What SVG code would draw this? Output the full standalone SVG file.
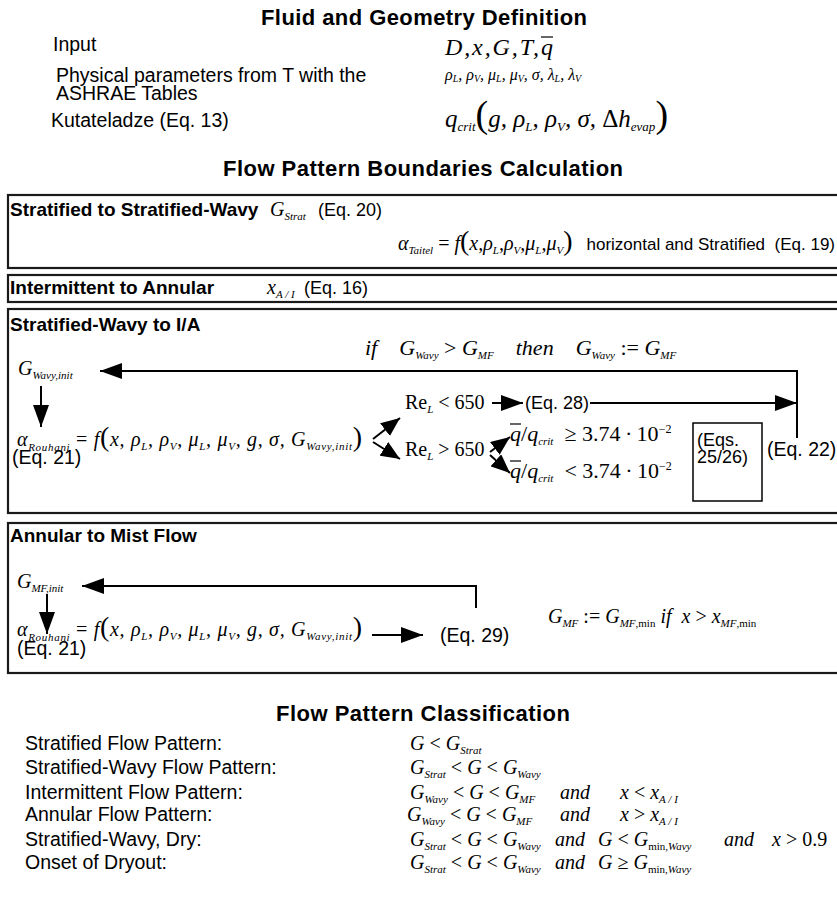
<svg xmlns="http://www.w3.org/2000/svg" width="837" height="903" viewBox="0 0 837 903">
<style>
text{fill:#000}
.h{font-family:"Liberation Sans",Arial,sans-serif;font-weight:bold;font-size:19px}
.ht{font-family:"Liberation Sans",Arial,sans-serif;font-weight:bold;font-size:22px}
.t{font-family:"Liberation Sans",Arial,sans-serif;font-size:19.5px}
.t2{font-family:"Liberation Sans",Arial,sans-serif;font-size:18px}
.m{font-family:"Liberation Serif","Times New Roman",serif;font-style:italic;font-size:20px}
.u{font-style:normal}
.s{font-size:11px}
.p{font-size:28px;font-style:normal}
.box{fill:none;stroke:#1a1a1a;stroke-width:2.2}
.ln{fill:none;stroke:#000;stroke-width:2}
.ol{stroke:#000;stroke-width:1.2}
</style>
<defs>
<marker id="ah" markerUnits="userSpaceOnUse" markerWidth="24" markerHeight="16" refX="22" refY="8" orient="auto"><path d="M0,0L22,8L0,16z"/></marker>
<marker id="as" markerUnits="userSpaceOnUse" markerWidth="20" markerHeight="16" refX="19" refY="8" orient="auto"><path d="M0,0L19,8L0,16z"/></marker>
</defs>
<rect width="837" height="903" fill="#fff"/>

<g id="titles">
<text class="ht" x="261" y="25" textLength="326">Fluid and Geometry Definition</text>
<text class="ht" x="223" y="176" textLength="400">Flow Pattern Boundaries Calculation</text>
<text class="ht" x="276" y="721" textLength="294">Flow Pattern Classification</text>
</g>

<g id="n-input">
<text class="t" x="53" y="51">Input</text>
<text class="m" x="445" y="55" style="font-size:24px" textLength="108">D,x,G,T,q</text>
<line class="ol" x1="541" y1="37" x2="553" y2="37"/>
</g>

<g id="n-phys">
<text class="t" x="56" y="82">Physical parameters from T with the</text>
<text class="t" x="56" y="100">ASHRAE Tables</text>
<text class="m" x="445" y="80" style="font-size:16px">ρ<tspan style="font-size:10px" dy="2">L</tspan><tspan dy="-2">, ρ</tspan><tspan style="font-size:10px" dy="2">V</tspan><tspan dy="-2">, μ</tspan><tspan style="font-size:10px" dy="2">L</tspan><tspan dy="-2">, μ</tspan><tspan style="font-size:10px" dy="2">V</tspan><tspan dy="-2">, σ, λ</tspan><tspan style="font-size:10px" dy="2">L</tspan><tspan dy="-2">, λ</tspan><tspan style="font-size:10px" dy="2">V</tspan></text>
</g>

<g id="n-kutateladze">
<text class="t" x="51" y="127">Kutateladze (Eq. 13)</text>
<text class="m" x="445" y="127" style="font-size:25px">q<tspan style="font-size:13px" dy="4">crit</tspan><tspan class="u" style="font-size:38px" dy="-4">(</tspan>g, ρ<tspan style="font-size:13px" dy="4">L</tspan><tspan dy="-4">, ρ</tspan><tspan style="font-size:13px" dy="4">V</tspan><tspan dy="-4">, σ, </tspan><tspan class="u">Δ</tspan>h<tspan style="font-size:13px" dy="4">evap</tspan><tspan class="u" style="font-size:38px" dy="-4">)</tspan></text>
</g>

<g id="n-strat">
<rect class="box" x="8" y="195" width="840" height="73"/>
<text class="h" x="10" y="216">Stratified to Stratified-Wavy</text>
<text class="m" x="270" y="216">G<tspan class="s" dy="4">Strat</tspan></text>
<text class="t2" x="318" y="216">(Eq. 20)</text>
<text class="m" x="398" y="250">α<tspan class="s" dy="4">Taitel</tspan><tspan class="u" dy="-4"> = </tspan>f<tspan class="p">(</tspan>x,ρ<tspan class="s" dy="4">L</tspan><tspan dy="-4">,ρ</tspan><tspan class="s" dy="4">V</tspan><tspan dy="-4">,μ</tspan><tspan class="s" dy="4">L</tspan><tspan dy="-4">,μ</tspan><tspan class="s" dy="4">V</tspan><tspan class="p" dy="-4">)</tspan></text>
<text class="t2" x="835" y="250" text-anchor="end" style="font-size:17px">horizontal and Stratified&#160; (Eq. 19)</text>
</g>

<g id="n-int">
<rect class="box" x="8" y="275" width="840" height="27"/>
<text class="h" x="10" y="294">Intermittent to Annular</text>
<text class="m" x="267" y="294">x<tspan class="s" dy="4">A / I</tspan></text>
<text class="t2" x="304" y="294">(Eq. 16)</text>
</g>

<g id="n-swia">
<rect class="box" x="8" y="309" width="840" height="204"/>
<text class="h" x="10" y="331">Stratified-Wavy to I/A</text>
<text class="m" x="365" y="355" style="font-size:22px">if&#160;&#160;&#160; G<tspan class="s" dy="4">Wavy</tspan><tspan class="u" dy="-4"> &gt; </tspan>G<tspan class="s" dy="4">MF</tspan><tspan dy="-4">&#160;&#160;&#160; then&#160;&#160;&#160; G</tspan><tspan class="s" dy="4">Wavy</tspan><tspan class="u" dy="-4"> := </tspan>G<tspan class="s" dy="4">MF</tspan></text>
<text class="m" x="18" y="375">G<tspan class="s" dy="4">Wavy,init</tspan></text>
<text class="m" x="17" y="446" textLength="345">α<tspan class="s" dy="5">Rouhani</tspan><tspan class="u" dy="-5"> = </tspan>f<tspan class="p">(</tspan>x, ρ<tspan class="s" dy="4">L</tspan><tspan dy="-4">, ρ</tspan><tspan class="s" dy="4">V</tspan><tspan dy="-4">, μ</tspan><tspan class="s" dy="4">L</tspan><tspan dy="-4">, μ</tspan><tspan class="s" dy="4">V</tspan><tspan dy="-4">, g, σ, G</tspan><tspan class="s" dy="4">Wavy,init</tspan><tspan class="p" dy="-4">)</tspan></text>
<text class="t" x="12" y="464">(Eq. 21)</text>
<text class="m" x="405" y="409"><tspan class="u">Re</tspan><tspan class="s" dy="4">L</tspan><tspan class="u" dy="-4"> &lt; 650</tspan></text>
<text class="t2" x="525" y="409">(Eq. 28)</text>
<text class="m" x="405" y="456"><tspan class="u">Re</tspan><tspan class="s" dy="4">L</tspan><tspan class="u" dy="-4"> &gt; 650</tspan></text>
<text class="m" x="510" y="441" style="font-size:22px">q<tspan class="u">/</tspan>q<tspan class="s" dy="4">crit</tspan><tspan class="u" dy="-4">&#160;&#160;≥&#160;3.74&#8201;·&#8201;10</tspan><tspan class="u" style="font-size:12px" dy="-8">−2</tspan></text>
<line class="ol" x1="510" y1="424" x2="521" y2="424"/>
<text class="m" x="510" y="478" style="font-size:22px">q<tspan class="u">/</tspan>q<tspan class="s" dy="4">crit</tspan><tspan class="u" dy="-4">&#160;&#160;&lt;&#160;3.74&#8201;·&#8201;10</tspan><tspan class="u" style="font-size:12px" dy="-8">−2</tspan></text>
<line class="ol" x1="510" y1="461" x2="521" y2="461"/>
<rect x="693" y="423" width="69" height="78" fill="none" stroke="#000" stroke-width="1.5"/>
<text class="t2" x="697" y="446">(Eqs.</text>
<text class="t2" x="697" y="463">25/26)</text>
<text class="t" x="767" y="456">(Eq. 22)</text>
</g>

<g id="n-amf">
<rect class="box" x="8" y="523" width="840" height="150"/>
<text class="h" x="10" y="542">Annular to Mist Flow</text>
<text class="m" x="17" y="588">G<tspan class="s" dy="4">MF,init</tspan></text>
<text class="m" x="17" y="636" textLength="345">α<tspan class="s" dy="5">Rouhani</tspan><tspan class="u" dy="-5"> = </tspan>f<tspan class="p">(</tspan>x, ρ<tspan class="s" dy="4">L</tspan><tspan dy="-4">, ρ</tspan><tspan class="s" dy="4">V</tspan><tspan dy="-4">, μ</tspan><tspan class="s" dy="4">L</tspan><tspan dy="-4">, μ</tspan><tspan class="s" dy="4">V</tspan><tspan dy="-4">, g, σ, G</tspan><tspan class="s" dy="4">Wavy,init</tspan><tspan class="p" dy="-4">)</tspan></text>
<text class="t" x="17" y="655">(Eq. 21)</text>
<text class="t" x="440" y="642">(Eq. 29)</text>
<text class="m" x="548" y="623">G<tspan class="s" dy="4">MF</tspan><tspan class="u" dy="-4"> := </tspan>G<tspan class="s" dy="4">MF</tspan><tspan class="s u">,min</tspan><tspan dy="-4"> if&#160; x <tspan class="u">&gt;</tspan> x</tspan><tspan class="s" dy="4">MF</tspan><tspan class="s u">,min</tspan></text>
</g>

<g id="connectors">
<polyline class="ln" points="797,438 797,371 100,371" marker-end="url(#ah)"/>
<line class="ln" x1="41" y1="386" x2="41" y2="427" marker-end="url(#ah)"/>
<line class="ln" x1="373" y1="439" x2="400" y2="418" marker-end="url(#as)"/>
<line class="ln" x1="373" y1="442" x2="400" y2="459" marker-end="url(#as)"/>
<line class="ln" x1="492" y1="403" x2="523" y2="403" marker-end="url(#ah)"/>
<line class="ln" x1="590" y1="403" x2="797" y2="403" marker-end="url(#ah)"/>
<line class="ln" x1="490" y1="452" x2="510" y2="437" marker-end="url(#as)"/>
<line class="ln" x1="490" y1="455" x2="510" y2="473" marker-end="url(#as)"/>
<polyline class="ln" points="476,608 476,586 82,586" marker-end="url(#ah)"/>
<line class="ln" x1="47" y1="594" x2="47" y2="634" marker-end="url(#ah)"/>
<line class="ln" x1="372" y1="635" x2="423" y2="635" marker-end="url(#ah)"/>
</g>

<g id="n-classification">
<text class="t" x="25" y="750">Stratified Flow Pattern:</text>
<text class="t" x="25" y="774">Stratified-Wavy Flow Pattern:</text>
<text class="t" x="25" y="799">Intermittent Flow Pattern:</text>
<text class="t" x="25" y="821">Annular Flow Pattern:</text>
<text class="t" x="25" y="846">Stratified-Wavy, Dry:</text>
<text class="t" x="25" y="869">Onset of Dryout:</text>
<text class="m" x="410" y="750">G <tspan class="u">&lt;</tspan> G<tspan class="s" dy="4">Strat</tspan></text>
<text class="m" x="410" y="774">G<tspan class="s" dy="4">Strat</tspan><tspan dy="-4"> <tspan class="u">&lt;</tspan> G <tspan class="u">&lt;</tspan> G</tspan><tspan class="s" dy="4">Wavy</tspan></text>
<text class="m" x="410" y="799">G<tspan class="s" dy="4">Wavy</tspan><tspan dy="-4"> <tspan class="u">&lt;</tspan> G <tspan class="u">&lt;</tspan> G</tspan><tspan class="s" dy="4">MF</tspan><tspan x="560" dy="-4">and</tspan><tspan x="620">x <tspan class="u">&lt;</tspan> x</tspan><tspan class="s" dy="4">A / I</tspan></text>
<text class="m" x="407" y="821">G<tspan class="s" dy="4">Wavy</tspan><tspan dy="-4"> <tspan class="u">&lt;</tspan> G <tspan class="u">&lt;</tspan> G</tspan><tspan class="s" dy="4">MF</tspan><tspan x="560" dy="-4">and</tspan><tspan x="620">x <tspan class="u">&gt;</tspan> x</tspan><tspan class="s" dy="4">A / I</tspan></text>
<text class="m" x="410" y="846">G<tspan class="s" dy="4">Strat</tspan><tspan dy="-4"> <tspan class="u">&lt;</tspan> G <tspan class="u">&lt;</tspan> G</tspan><tspan class="s" dy="4">Wavy</tspan><tspan x="555" dy="-4">and</tspan><tspan x="598">G <tspan class="u">&lt;</tspan> G</tspan><tspan class="s u" dy="4">min,</tspan><tspan class="s">Wavy</tspan><tspan x="724" dy="-4">and</tspan><tspan x="772">x <tspan class="u">&gt; 0.9</tspan></tspan></text>
<text class="m" x="410" y="869">G<tspan class="s" dy="4">Strat</tspan><tspan dy="-4"> <tspan class="u">&lt;</tspan> G <tspan class="u">&lt;</tspan> G</tspan><tspan class="s" dy="4">Wavy</tspan><tspan x="555" dy="-4">and</tspan><tspan x="598">G <tspan class="u">≥</tspan> G</tspan><tspan class="s u" dy="4">min,</tspan><tspan class="s">Wavy</tspan></text>
</g>
</svg>
